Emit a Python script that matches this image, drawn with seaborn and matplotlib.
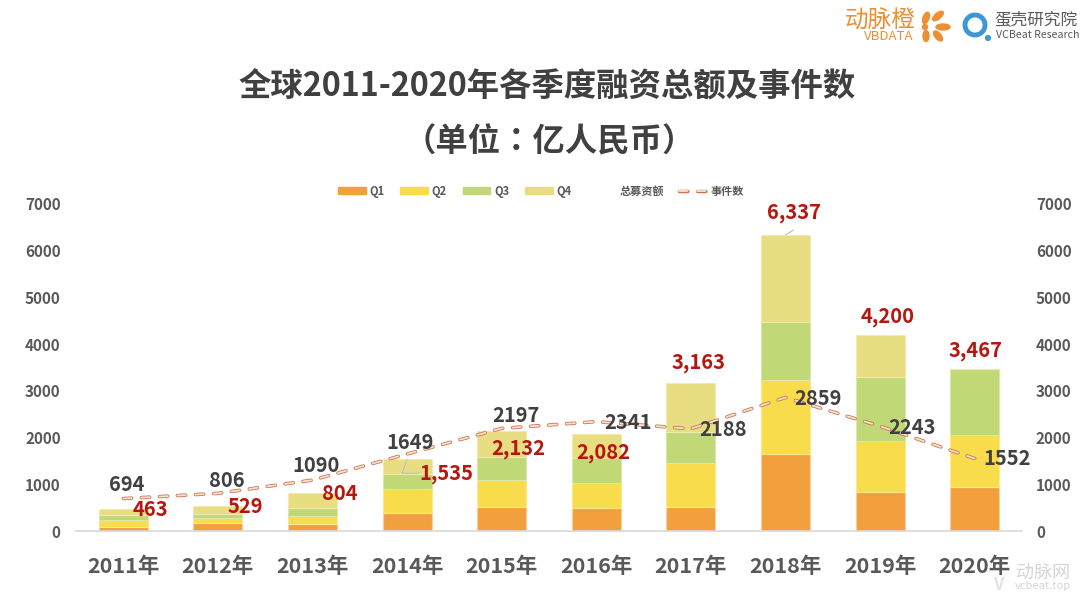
import matplotlib
matplotlib.use('Agg')
import matplotlib.pyplot as plt
import matplotlib.patheffects as pe
from matplotlib.lines import Line2D
from matplotlib.patches import Patch, Ellipse, Circle
import numpy as np
import seaborn as sns

# Data
years = ['2011年', '2012年', '2013年', '2014年', '2015年', '2016年', '2017年', '2018年', '2019年', '2020年']
q1 = [86, 178, 157, 379, 514, 493, 521, 1657, 843, 936]
q2 = [157, 93, 157, 514, 579, 528, 929, 1579, 1086, 1114]
q3 = [107, 100, 179, 321, 493, 543, 671, 1228, 1378, 1417]
q4 = [113, 158, 311, 321, 546, 518, 1042, 1873, 893, 0]
totals = [463, 529, 804, 1535, 2132, 2082, 3163, 6337, 4200, 3467]
events = [694, 806, 1090, 1649, 2197, 2341, 2188, 2859, 2243, 1552]

# Label offsets from the mark, in pixels (x right, y up)
total_offsets = [(27, 0), (27, 0), (27, 0), (39, -14), (17, -17), (7, -19), (8, 21), (8, 22), (8, 18), (1, 19)]
event_offsets = [(3, 14), (9, 13), (4, 15), (3, 11), (14, 13), (32, -1), (32, -1), (32, -1), (32, -1), (32, 0)]

colors = ['#f2a03d', '#f9dc4c', '#c1d876', '#e9dd82']
edges = ['#f8cf9e', '#fbe88f', '#dbe8ab', '#f2eab0']

sns.set_theme(style="white")
plt.rcParams['font.family'] = ['Noto Sans CJK SC', 'DejaVu Sans']
plt.rcParams['lines.scale_dashes'] = False

fig = plt.figure(figsize=(10.8, 6.01), dpi=100)
ax = fig.add_axes([76 / 1080, (601 - 531) / 601, 946 / 1080, 327 / 601])

# Stacked bars
bottom = np.zeros(len(years))
for vals, c, e in zip([q1, q2, q3, q4], colors, edges):
    sns.barplot(x=years, y=vals, bottom=bottom, color=c, saturation=1, width=0.52,
                edgecolor=e, linewidth=0.8, ax=ax)
    bottom = bottom + np.array(vals)

ax.set_xlim(-0.5, 9.5)
ax.set_ylim(0, 7000)
ax.set_yticks(range(0, 8000, 1000))
ax.tick_params(axis='y', length=0, pad=11, labelsize=11, labelcolor='#595959')
ax.tick_params(axis='x', length=0, pad=18, labelsize=15.5, labelcolor='#595959')
for lab in ax.get_xticklabels() + ax.get_yticklabels():
    lab.set_fontweight('bold')
sns.despine(ax=ax, left=True, right=True, top=True)
ax.spines['bottom'].set_color('#d9d9d9')
ax.spines['bottom'].set_linewidth(1.2)

# Event count on the right axis
ax2 = ax.twinx()
sns.lineplot(x=years, y=events, sort=False, errorbar=None, color='#f9e3d2', linewidth=1.3,
             linestyle=(0, (6, 7)), dash_capstyle='round', ax=ax2)
ax2.lines[0].set_path_effects([pe.Stroke(linewidth=2.5, foreground='#c9744c'), pe.Normal()])
ax2.set_ylim(0, 7000)
ax2.set_yticks(range(0, 8000, 1000))
ax2.tick_params(axis='y', length=0, pad=10, labelsize=11, labelcolor='#595959')
for lab in ax2.get_yticklabels():
    lab.set_fontweight('bold')
ax2.grid(False)
sns.despine(ax=ax2, left=True, right=True, top=True, bottom=True)

# Labels
for i, (t, off) in enumerate(zip(totals, total_offsets)):
    ax2.annotate(f'{t:,}', (i, t), xytext=off, textcoords='offset pixels', ha='center', va='center',
                 fontsize=14.5, fontweight='bold', color='#b5170f', zorder=6)
for i, (n, off) in enumerate(zip(events, event_offsets)):
    ax2.annotate(f'{n}', (i, n), xytext=off, textcoords='offset pixels', ha='center', va='center',
                 fontsize=14.5, fontweight='bold', color='#404040', zorder=6)

# Leader lines
ax2.annotate('', (3, totals[3]), xytext=(12, -14), textcoords='offset pixels',
             arrowprops=dict(arrowstyle='-', color='#bfbfbf', lw=0.8, shrinkA=0, shrinkB=0,
                             connectionstyle='angle,angleA=0,angleB=70,rad=0'))
ax2.annotate('', (7, totals[7]), xytext=(8, 5), textcoords='offset pixels',
             arrowprops=dict(arrowstyle='-', color='#bfbfbf', lw=0.8, shrinkA=0, shrinkB=0))

# Legend
handles = [Patch(color=c) for c in colors]
handles += [Patch(color='none'), Line2D([], [], color='#f9e3d2', lw=1.3, linestyle=(0, (6, 7)), dash_capstyle='round',
                                         path_effects=[pe.Stroke(linewidth=2.5, foreground='#c9744c'), pe.Normal()])]
leg = ax2.legend(handles, ['Q1', 'Q2', 'Q3', 'Q4', '总募资额', '事件数'], ncol=6, frameon=False,
                 loc='center', bbox_to_anchor=(541 / 1080, (601 - 191) / 601), bbox_transform=fig.transFigure,
                 prop={'size': 8, 'weight': 'bold'}, labelcolor='#595959',
                 handlelength=2.5, handleheight=0.5, handletextpad=0.35, columnspacing=1.4)

# Title
fig.text(547 / 1080, 1 - 86 / 601, '全球2011-2020年各季度融资总额及事件数', ha='center', va='center',
         fontsize=23.3, fontweight='bold', color='#404040')
fig.text(549 / 1080, 1 - 142 / 601, '（单位：亿人民币）', ha='center', va='center',
         fontsize=23.3, fontweight='bold', color='#404040',
         family=['Noto Sans CJK TC', 'DejaVu Sans'])

# Overlay in pixel coordinates for the logos and the watermark
over = fig.add_axes([0, 0, 1, 1], zorder=10)
over.set_xlim(0, 1080)
over.set_ylim(601, 0)
over.axis('off')
orange = '#ee8f34'
over.text(880, 21, '动脉橙', ha='center', va='center', fontsize=17, color=orange, fontweight='medium')
over.text(889, 37, 'VBDATA', ha='center', va='center', fontsize=9.5, color=orange)
for x, y, w, h, a in [(926, 18, 6, 12, 20), (938, 16, 6, 13, 50), (943, 27, 14, 6, 0),
                      (938, 36, 6, 12, -40), (926, 36, 6, 11, 0), (925, 27, 5, 5, 0)]:
    over.add_patch(Ellipse((x, y), w, h, angle=a, color=orange))
over.add_patch(Circle((975, 25), 10, fill=False, ec='#3d96d6', lw=3.5))
over.add_patch(Circle((988, 38), 2.4, color='#3d96d6'))
over.text(1036, 20, '蛋壳研究院', ha='center', va='center', fontsize=12, color='#595959')
over.text(1038, 35, 'VCBeat Research', ha='center', va='center', fontsize=7.6, color='#595959')
over.text(1043, 574, '动脉网', ha='center', va='center', fontsize=13, color='#d5d5d5')
over.text(1043, 586, 'vcbeat.top', ha='center', va='center', fontsize=8, color='#d5d5d5')
over.text(998, 585, 'V', ha='center', va='center', fontsize=12, color='#e2e2e2', fontweight='bold')

fig.savefig('out.png', dpi=100)
